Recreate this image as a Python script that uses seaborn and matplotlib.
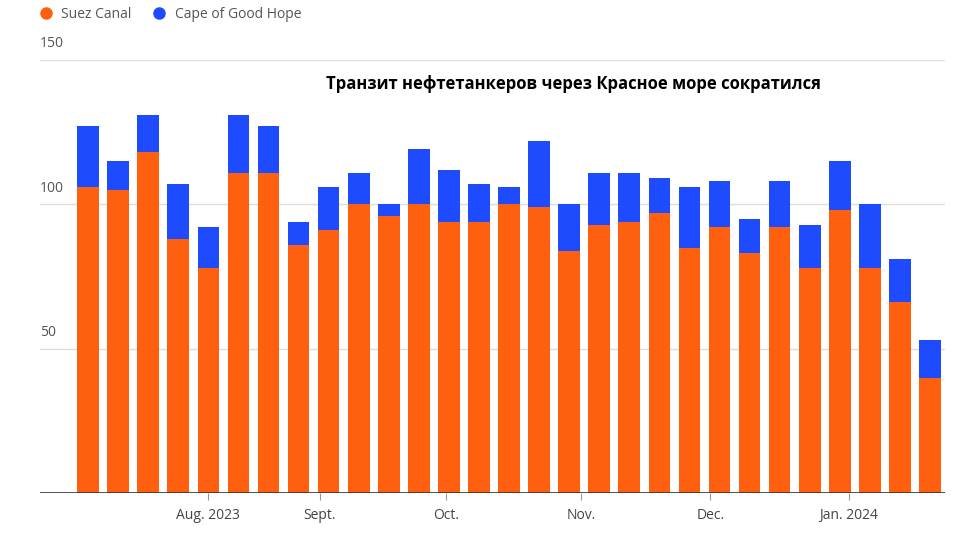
import pandas as pd
import seaborn as sns
import matplotlib.pyplot as plt

# Weekly oil tanker transits
suez = [106, 105, 118, 88, 78, 111, 111, 86, 91, 100, 96, 100, 94, 94, 100, 99,
        84, 93, 94, 97, 85, 92, 83, 92, 78, 98, 78, 66, 40]
cape = [21, 10, 13, 19, 14, 20, 16, 8, 15, 11, 4, 19, 18, 13, 6, 23,
        16, 18, 17, 12, 21, 16, 12, 16, 15, 17, 22, 15, 13]
month_labels = ["Aug. 2023", "Sept.", "Oct.", "Nov.", "Dec.", "Jan. 2024"]
month_pos = [4.0, 7.7, 11.9, 16.4, 20.7, 25.3]
y_ticks = [0, 50, 100, 150]

orange = "#FF6010"
blue = "#1F4BFF"

df = pd.DataFrame({"week": range(len(suez)), "suez": suez, "cape": cape})
df["total"] = df["suez"] + df["cape"]

plt.rcParams["font.family"] = "Open Sans"
fig = plt.figure(figsize=(9.74, 5.46), dpi=100)
ax = fig.add_axes([40 / 974, 53 / 546, 905 / 974, 433 / 546])

sns.barplot(data=df, x="week", y="total", color=blue, width=0.72, saturation=1, ax=ax)
sns.barplot(data=df, x="week", y="suez", color=orange, width=0.72, saturation=1, ax=ax)

ax.set_xlim(-1.6, 28.5)
ax.set_ylim(0, 150)
for s in ax.spines.values():
    s.set_visible(False)
for y in y_ticks[1:]:
    ax.axhline(y, color="#dddddd", lw=1, zorder=0)
    ax.text(0.0, y + 3, str(y), transform=ax.get_yaxis_transform(),
            fontsize=10, color="#555555", ha="left", va="bottom")
ax.axhline(0, color="#333333", lw=1.2)
ax.set_yticks([])
ax.set_xticks(month_pos)
ax.set_xticklabels(month_labels, fontsize=10, color="#444444")
ax.tick_params(axis="x", length=5, color="#999999", pad=6)
ax.set_xlabel("")
ax.set_ylabel("")

ax.text(0.59, 0.945, "Транзит нефтетанкеров через Красное море сократился",
        transform=ax.transAxes, ha="center", va="center", fontsize=12,
        fontweight="bold", color="black")

h1 = plt.Line2D([], [], marker="o", ls="", color=orange, markersize=8)
h2 = plt.Line2D([], [], marker="o", ls="", color=blue, markersize=8)
fig.legend([h1, h2], ["Suez Canal", "Cape of Good Hope"], loc="upper left",
           bbox_to_anchor=(0.02, 1.01), ncol=2, frameon=False, fontsize=10,
           handletextpad=0.1, columnspacing=1.0, labelcolor="#555555")

fig.savefig("out.png", dpi=100)
